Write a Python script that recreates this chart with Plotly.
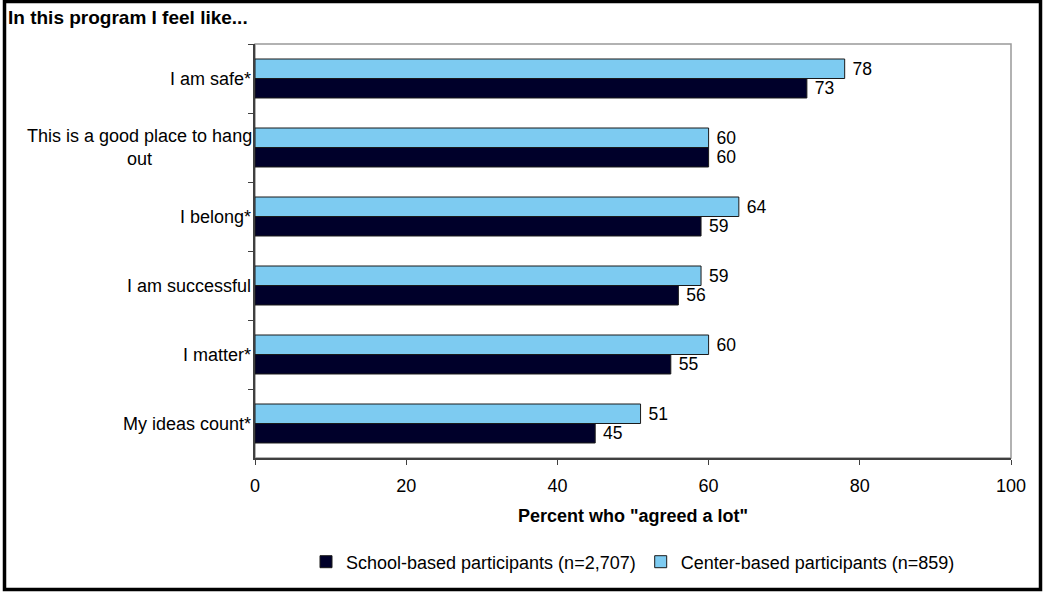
import plotly.graph_objects as go

categories = ["I am safe*", "This is a good place to hang<br>out", "I belong*",
              "I am successful", "I matter*", "My ideas count*"]
school_values = [73, 60, 59, 56, 55, 45]
center_values = [78, 60, 64, 59, 60, 51]
school_name = "School-based participants (n=2,707)"
center_name = "Center-based participants (n=859)"
x_ticks = [0, 20, 40, 60, 80, 100]

FONT = "Liberation Sans, Arial, sans-serif"
W, H = 1043, 592
ML, MR, MT, MB = 255, 32, 44, 134
PW, PH = W - ML - MR, H - MT - MB

def px_to_paper_x(px):
    return (px - ML) / PW

def px_to_paper_y(py):
    return (H - MB - py) / PH

fig = go.Figure()
fig.add_trace(go.Bar(
    y=categories, x=center_values, orientation="h", name=center_name,
    marker=dict(color="#7DCBF1", line=dict(color="#1a1a1a", width=1)),
    text=center_values, texttemplate=" %{x}", textposition="outside",
    textfont=dict(size=18, color="black", family=FONT), cliponaxis=False,
    legendrank=2,
))
fig.add_trace(go.Bar(
    y=categories, x=school_values, orientation="h", name=school_name,
    marker=dict(color="#00002A", line=dict(color="#1a1a1a", width=1)),
    text=school_values, texttemplate=" %{x}", textposition="outside",
    textfont=dict(size=18, color="black", family=FONT), cliponaxis=False,
    legendrank=1,
))

annotations = []
for cat in categories:
    if "<br>" in cat:
        annotations.append(dict(x=px_to_paper_x(139), xref="paper", y=cat, yref="y",
                                text=cat, showarrow=False, xanchor="center", align="center",
                                font=dict(size=18, color="black", family=FONT)))
    else:
        annotations.append(dict(x=px_to_paper_x(253), xref="paper", y=cat, yref="y",
                                text=cat, showarrow=False, xanchor="right", align="right",
                                font=dict(size=18, color="black", family=FONT)))
annotations.append(dict(x=px_to_paper_x(6), xref="paper", y=px_to_paper_y(18), yref="paper",
                        text="<b>In this program I feel like...</b>", showarrow=False,
                        xanchor="left", yanchor="middle",
                        font=dict(size=19, color="black", family=FONT)))

shapes = [
    dict(type="rect", xref="paper", yref="paper", x0=0, x1=1, y0=0, y1=1,
         line=dict(color="#999999", width=1.5), layer="below"),
    dict(type="rect", xref="paper", yref="paper",
         x0=px_to_paper_x(4.5), x1=px_to_paper_x(1040.5),
         y0=px_to_paper_y(589.5), y1=px_to_paper_y(1.5),
         line=dict(color="black", width=3.5)),
]

fig.update_layout(
    width=W, height=H,
    margin=dict(l=ML, r=MR, t=MT, b=MB),
    paper_bgcolor="white", plot_bgcolor="white",
    barmode="group", bargap=0.435, bargroupgap=0,
    font=dict(family=FONT, size=18, color="black"),
    showlegend=True,
    legend=dict(orientation="h", x=0.5, xanchor="center",
                y=px_to_paper_y(562), yanchor="middle",
                font=dict(size=18, family=FONT, color="black"),
                itemwidth=30, tracegroupgap=0),
    annotations=annotations,
    shapes=shapes,
    xaxis=dict(range=[0, 100], tickvals=x_ticks, ticks="outside", ticklen=5,
               tickcolor="#404040", showline=True, linecolor="#404040", linewidth=1.5,
               showgrid=False, zeroline=False, ticklabelstandoff=6,
               tickfont=dict(size=18, family=FONT, color="black"),
               title=dict(text='<b>Percent who "agreed a lot"</b>', standoff=14,
                          font=dict(size=18, family=FONT, color="black"))),
    yaxis=dict(autorange="reversed", tickson="boundaries", ticks="outside", ticklen=5,
               tickcolor="#404040", showline=True, linecolor="#404040", linewidth=1.5,
               showgrid=False, zeroline=False, showticklabels=False),
)

fig.write_html("out.html",
               config={"displayModeBar": False},
               post_script="document.body.style.margin='0';document.body.style.overflow='hidden';")
